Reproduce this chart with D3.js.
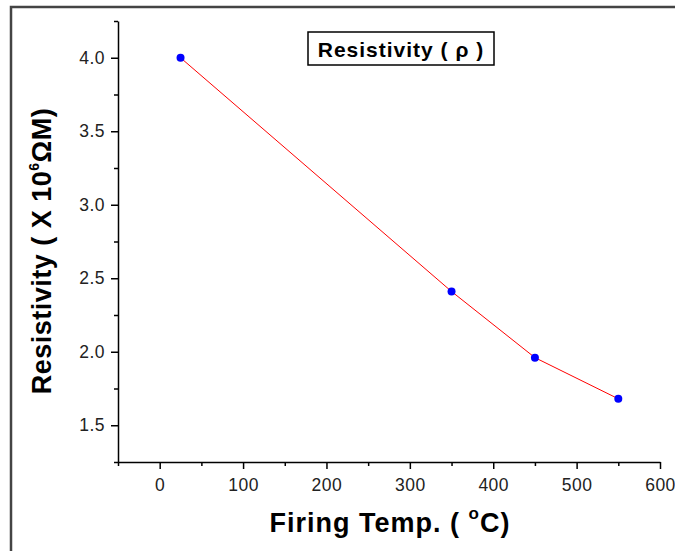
<!DOCTYPE html>
<html>
<head>
<meta charset="utf-8">
<script src="https://cdn.jsdelivr.net/npm/d3@7"></script>
<style>
  body { margin: 0; background: #fff; }
  text { font-family: "Liberation Sans", Arial, sans-serif; }
</style>
</head>
<body>
<div id="chart"></div>
<script>
// data
const firingTemp = [25, 350, 450, 550];
const resistivity = [4.0, 2.41, 1.96, 1.68];
const xTickValues = [0, 100, 200, 300, 400, 500, 600];
const yTickValues = [1.5, 2.0, 2.5, 3.0, 3.5, 4.0];
const legendLabel = "Resistivity ( \u03C1 )";

const W = 675, H = 551;

const svg = d3.select("#chart")
  .append("svg")
  .attr("width", W)
  .attr("height", H);

// outer frame (runs off right and bottom edges)
svg.append("rect")
  .attr("x", 11)
  .attr("y", 7)
  .attr("width", 700)
  .attr("height", 600)
  .attr("fill", "none")
  .attr("stroke", "#444")
  .attr("stroke-width", 2.5);

const x = d3.scaleLinear().domain([-50, 600]).range([118, 660]);
const y = d3.scaleLinear().domain([1.25, 4.25]).range([462, 21]);

// x axis: minor ticks then major
const xMinor = d3.range(-50, 601, 100);
svg.append("g")
  .attr("transform", `translate(0, ${y(1.25)})`)
  .call(d3.axisBottom(x).tickValues(xMinor).tickSize(4).tickFormat(""))
  .call(g => g.select(".domain").remove());
svg.append("g")
  .attr("transform", `translate(0, ${y(1.25)})`)
  .call(d3.axisBottom(x).tickValues(xTickValues).tickSize(7).tickSizeOuter(0).tickPadding(10).tickFormat(d3.format("d")));

// y axis: minor ticks then major
const yMinor = d3.range(1.25, 4.26, 0.5);
svg.append("g")
  .attr("transform", `translate(${x(-50)}, 0)`)
  .call(d3.axisLeft(y).tickValues(yMinor).tickSize(4).tickFormat(""))
  .call(g => g.select(".domain").remove());
svg.append("g")
  .attr("transform", `translate(${x(-50)}, 0)`)
  .call(d3.axisLeft(y).tickValues(yTickValues).tickSize(7).tickSizeOuter(0).tickPadding(6).tickFormat(d3.format(".1f")));

svg.selectAll(".domain, .tick line")
  .attr("stroke", "#000")
  .attr("stroke-width", 1.5);
svg.selectAll(".tick text")
  .attr("font-family", "Liberation Sans")
  .attr("font-size", 17.5)
  .attr("letter-spacing", 0.5)
  .attr("fill", "#222");

// line + points
const pts = firingTemp.map((t, i) => ({ t, r: resistivity[i] }));
const line = d3.line().x(d => x(d.t)).y(d => y(d.r));

svg.append("path")
  .datum(pts)
  .attr("fill", "none")
  .attr("stroke", "#ff0000")
  .attr("stroke-width", 1)
  .attr("d", line);

svg.selectAll(".pt")
  .data(pts)
  .enter()
  .append("circle")
  .attr("class", "pt")
  .attr("cx", d => x(d.t))
  .attr("cy", d => y(d.r))
  .attr("r", 4)
  .attr("fill", "#0000ff");

// legend box
const legend = svg.append("g");
legend.append("rect")
  .attr("x", 308)
  .attr("y", 32)
  .attr("width", 186)
  .attr("height", 33)
  .attr("fill", "#fff")
  .attr("stroke", "#000")
  .attr("stroke-width", 1.5);
legend.append("text")
  .attr("x", 401)
  .attr("y", 57)
  .attr("text-anchor", "middle")
  .attr("font-size", 21)
  .attr("font-weight", "bold")
  .attr("letter-spacing", 1)
  .text(legendLabel);

// x axis title
const xt = svg.append("text")
  .attr("x", 390)
  .attr("y", 532)
  .attr("text-anchor", "middle")
  .attr("font-size", 27)
  .attr("font-weight", "bold")
  .attr("letter-spacing", 1);
xt.append("tspan").text("Firing Temp. ( ");
xt.append("tspan").attr("dy", -13).attr("font-size", 17).text("o");
xt.append("tspan").attr("dy", 13).text("C)");

// y axis title
const yt = svg.append("text")
  .attr("transform", "translate(51, 251) rotate(-90)")
  .attr("text-anchor", "middle")
  .attr("font-size", 27)
  .attr("font-weight", "bold")
  .attr("letter-spacing", 0.5);
yt.append("tspan").text("Resistivity ( X 10");
yt.append("tspan").attr("dy", -12).attr("font-size", 14).text("6");
yt.append("tspan").attr("dy", 12).text("\u03A9M)");
</script>
</body>
</html>
